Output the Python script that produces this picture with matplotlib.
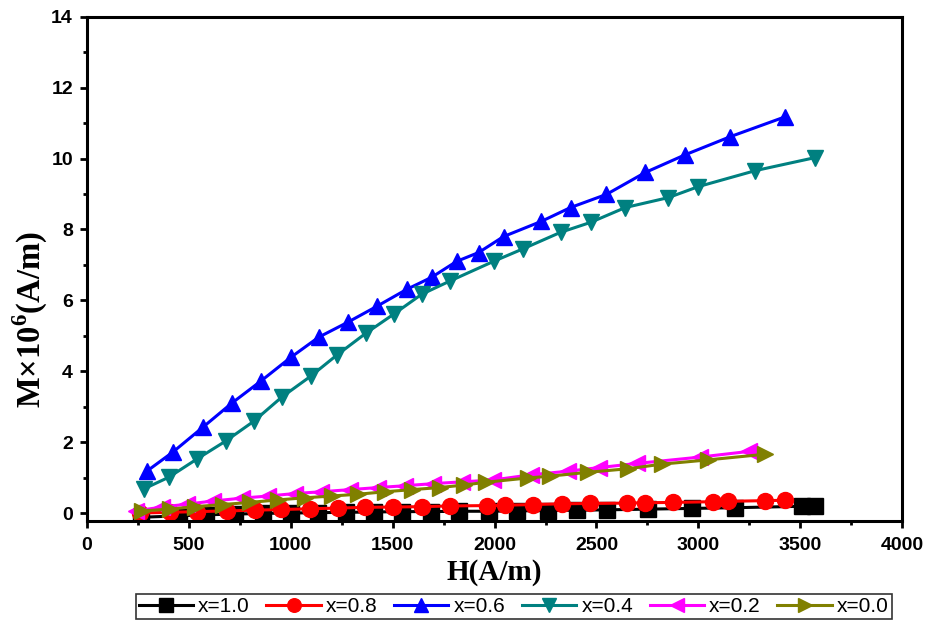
import matplotlib
matplotlib.use("Agg")
import matplotlib.pyplot as plt
from matplotlib.ticker import MultipleLocator

# x = 1.0
h_10 = [265, 450, 585, 727, 865, 1000, 1135, 1272, 1410, 1548, 1690, 1827,
        1975, 2108, 2260, 2403, 2550, 2752, 2968, 3178, 3507, 3570]
m_10 = [-0.12, -0.08, -0.05, -0.03, -0.01, 0.0, 0.01, 0.02, 0.03, 0.04, 0.04,
        0.05, 0.05, 0.06, 0.07, 0.08, 0.09, 0.11, 0.13, 0.15, 0.19, 0.2]

# x = 0.8
h_08 = [260, 407, 540, 687, 825, 952, 1094, 1232, 1364, 1502, 1644, 1782,
        1963, 2052, 2189, 2331, 2469, 2650, 2739, 2877, 3073, 3146, 3328, 3426]
m_08 = [0.0, 0.02, 0.04, 0.06, 0.08, 0.1, 0.12, 0.14, 0.16, 0.17, 0.18, 0.2,
        0.21, 0.22, 0.24, 0.26, 0.27, 0.28, 0.29, 0.3, 0.32, 0.33, 0.35, 0.36]

# x = 0.6
h_06 = [294, 422, 569, 711, 853, 1000, 1137, 1279, 1422, 1569, 1691, 1814,
        1922, 2044, 2230, 2373, 2549, 2740, 2936, 3157, 3426]
m_06 = [1.18, 1.72, 2.42, 3.10, 3.72, 4.39, 4.96, 5.38, 5.83, 6.31, 6.65,
        7.10, 7.35, 7.80, 8.23, 8.62, 8.99, 9.61, 10.11, 10.62, 11.18]

# x = 0.4
h_04 = [279, 402, 539, 681, 819, 956, 1098, 1225, 1368, 1505, 1642, 1779,
        1995, 2142, 2324, 2471, 2642, 2853, 3000, 3279, 3574]
m_04 = [0.68, 1.01, 1.52, 2.03, 2.59, 3.27, 3.86, 4.45, 5.07, 5.61, 6.17,
        6.54, 7.10, 7.46, 7.92, 8.20, 8.62, 8.90, 9.21, 9.66, 10.03]

# x = 0.2
h_02 = [240, 370, 490, 620, 760, 890, 1020, 1150, 1290, 1430, 1560, 1700,
        1840, 1990, 2180, 2360, 2510, 2700, 3010, 3250]
m_02 = [0.06, 0.17, 0.25, 0.34, 0.42, 0.48, 0.55, 0.60, 0.66, 0.72, 0.77,
        0.83, 0.88, 0.93, 1.08, 1.18, 1.28, 1.40, 1.58, 1.74]

# x = 0.0
h_00 = [270, 407, 530, 668, 800, 937, 1070, 1202, 1330, 1463, 1595, 1733,
        1850, 1960, 2164, 2272, 2459, 2655, 2822, 3048, 3328]
m_00 = [0.06, 0.11, 0.18, 0.24, 0.30, 0.37, 0.43, 0.48, 0.53, 0.60, 0.66,
        0.72, 0.79, 0.87, 0.99, 1.04, 1.15, 1.25, 1.38, 1.50, 1.66]

labels = ["x=1.0", "x=0.8", "x=0.6", "x=0.4", "x=0.2", "x=0.0"]

plt.rcParams["mathtext.fontset"] = "custom"
plt.rcParams["mathtext.rm"] = "Liberation Serif:bold"
plt.rcParams["mathtext.bf"] = "Liberation Serif:bold"

fig = plt.figure(figsize=(9.34, 6.23), dpi=100)
ax = fig.add_axes([0.093, 0.164, 0.873, 0.809])

series = [
    (h_10, m_10, "black", "s"),
    (h_08, m_08, "#ff0000", "o"),
    (h_06, m_06, "#0000ff", "^"),
    (h_04, m_04, "#008080", "v"),
    (h_02, m_02, "#ff00ff", "<"),
    (h_00, m_00, "#808000", ">"),
]
for (h, m, c, mk), lab in zip(series, labels):
    ax.plot(h, m, color=c, marker=mk, markersize=11.5, linewidth=2.2,
            label=lab)

ax.set_xlim(0, 4000)
ax.set_ylim(-0.22, 14)
ax.xaxis.set_major_locator(MultipleLocator(500))
ax.xaxis.set_minor_locator(MultipleLocator(250))
ax.yaxis.set_major_locator(MultipleLocator(2))
ax.yaxis.set_minor_locator(MultipleLocator(1))
ax.tick_params(which="both", direction="out", width=2, top=False, right=False)
ax.tick_params(which="major", length=5, pad=5)
ax.tick_params(axis="x", which="major", pad=7)
ax.tick_params(which="minor", length=3)
for s in ax.spines.values():
    s.set_linewidth(2.2)

for t in ax.get_xticklabels() + ax.get_yticklabels():
    t.set_fontfamily("Liberation Sans")
    t.set_fontweight("bold")
    t.set_fontsize(14)

ax.set_xlabel("H(A/m)", fontfamily="Liberation Serif", fontweight="bold",
              fontsize=21, labelpad=3)
ax.set_ylabel(r"M×10$^{\mathbf{6}}$(A/m)", fontfamily="Liberation Serif",
              fontweight="bold", fontsize=23.5)
ax.yaxis.set_label_coords(-0.045, 0.40)

leg = fig.legend(loc="lower center", bbox_to_anchor=(0.550, 0.006),
                 ncol=6, prop={"family": "Liberation Sans", "size": 15},
                 frameon=True, fancybox=False, edgecolor="black",
                 handlelength=2.6, handletextpad=0.25, columnspacing=0.8,
                 borderpad=0.15, borderaxespad=0.0, markerscale=0.85)
leg.get_frame().set_linewidth(1.2)

fig.savefig("out.png", dpi=100)
